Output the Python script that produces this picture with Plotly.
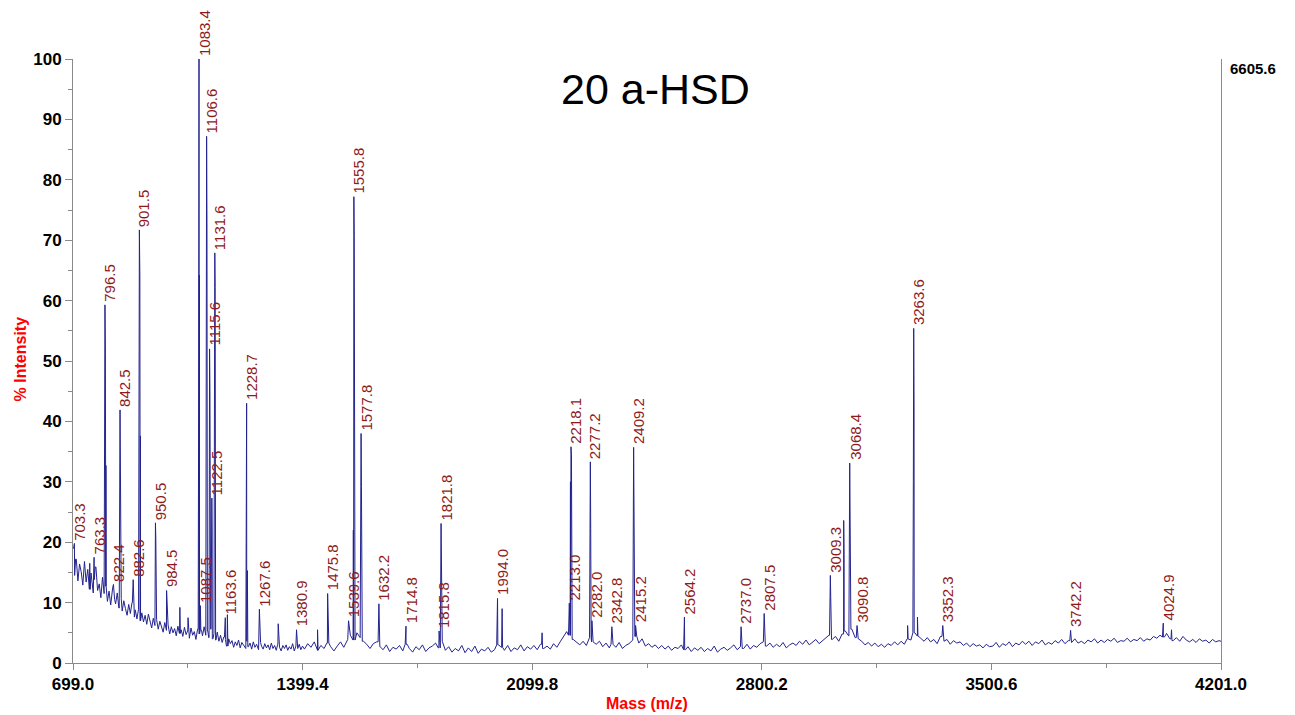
import plotly.graph_objects as go

# ---------------- data ----------------
# baseline (noise) samples
base_mz_1 = list(range(699, 1400, 5))
base_int_1 = [19.0, 14.5, 17.2, 13.6, 16.4, 15.1, 12.9, 16.8, 13.4, 15.5,
              12.2, 14.9, 11.6, 13.8, 15.9, 12.0, 13.1, 10.8, 14.2, 11.5,
              12.7, 10.2, 11.9, 9.6, 12.4, 10.5, 9.8, 11.6, 9.1, 10.7,
              8.6, 10.3, 9.0, 7.9, 9.7, 8.2, 10.0, 7.6, 8.8, 7.3,
              8.9, 7.0, 8.3, 6.8, 7.9, 6.4, 8.1, 6.9, 5.8, 7.4,
              6.2, 7.2, 5.6, 6.9, 5.9, 5.1, 6.7, 5.4, 6.3, 4.8,
              6.0, 5.0, 5.7, 4.5, 6.1, 4.9, 5.5, 4.4, 5.9, 4.7,
              5.3, 4.1, 5.8, 4.6, 5.2, 3.9, 5.6, 4.8, 5.4, 4.5,
              6.0, 4.6, 5.3, 4.2, 5.6, 4.0, 4.9, 3.8, 5.1, 3.6,
              4.6, 3.4, 4.3, 3.9, 2.8, 4.0, 3.2, 3.7, 2.6, 3.5,
              2.9, 3.8, 2.5, 3.4, 3.0, 2.4, 3.6, 2.7, 3.3, 2.3,
              3.5, 2.6, 3.1, 2.2, 3.4, 2.8, 2.3, 3.2, 2.5, 3.0,
              2.2, 3.3, 2.4, 2.9, 2.1, 3.1, 2.6, 2.0, 2.9, 2.4,
              3.0, 2.1, 2.7, 2.3, 3.2, 2.0, 2.8, 2.4, 3.1, 2.2,
              2.8]
base_mz_2 = list(range(1405, 4200, 10)) + [4201]
base_int_2 = [2.3, 3.2, 2.6, 3.5, 2.1, 2.9, 2.4, 3.3, 2.7, 2.0,
              2.8, 3.5, 2.6, 3.9, 4.6, 3.8, 5.0, 4.2, 3.6, 3.1,
              2.4, 3.2, 3.5, 2.7, 2.2, 3.0, 1.9, 2.6, 2.3, 2.9,
              2.0, 3.1, 2.4, 1.8, 2.7, 2.2, 3.0, 1.9, 2.5, 2.8,
              3.3, 2.5, 3.6, 2.1, 2.7, 1.8, 2.4, 2.0, 2.9, 1.7,
              2.5, 1.9, 2.8, 1.6, 2.3, 2.0, 2.6, 1.8, 2.2, 3.0,
              2.6, 2.1, 2.9, 1.9, 2.5, 2.2, 3.0, 2.0, 2.7, 2.3,
              2.9, 2.2, 3.1, 2.4, 2.8, 2.3, 3.2, 2.6, 3.5, 4.3,
              5.2, 4.6, 3.9, 3.4, 3.0, 3.6, 2.9, 4.2, 3.5, 3.1,
              3.6, 2.7, 3.3, 2.5, 3.1, 2.6, 3.4, 2.4, 2.9, 3.2,
              3.8, 4.4, 3.3, 4.0, 2.8, 3.2, 2.6, 3.0, 2.4, 2.9,
              2.3, 2.8, 2.1, 2.6, 2.4, 3.0, 2.2, 2.7, 1.9, 2.5,
              2.1, 2.6, 1.9, 2.4, 2.0, 2.8, 1.8, 2.3, 2.6, 2.1,
              2.5, 3.0, 2.2, 2.7, 2.4, 3.1, 2.3, 2.9, 2.6, 3.2,
              3.5, 2.8, 3.3, 2.6, 3.1, 2.7, 3.4, 2.5, 3.0, 3.3,
              2.9, 3.6, 3.1, 3.8, 3.0, 3.5, 3.9, 3.2, 3.7, 4.1,
              4.6, 3.9, 4.4, 3.6, 4.8, 5.3, 4.5, 5.6, 4.2, 4.0,
              3.6, 3.0, 3.4, 2.8, 3.3, 2.7, 3.1, 2.6, 3.2, 2.9,
              3.5, 3.0, 3.6, 3.1, 4.0, 3.8, 5.0, 4.5, 4.1, 3.6,
              4.2, 3.5, 3.9, 3.2, 4.4, 3.6, 3.9, 3.1, 3.7, 3.3,
              3.5, 2.9, 3.3, 2.7, 3.2, 2.8, 3.0, 2.5, 3.1, 2.7,
              2.8, 3.4, 2.6, 3.2, 2.9, 3.5, 2.7, 3.3, 3.0, 3.6,
              3.1, 3.6, 2.9, 3.5, 3.2, 3.8, 3.0, 3.4, 3.1, 3.7,
              3.3, 3.9, 3.2, 3.7, 3.4, 4.0, 3.3, 3.6, 3.2, 3.8,
              3.5, 4.0, 3.3, 3.8, 3.4, 3.9, 3.6, 4.1, 3.4, 3.7,
              3.6, 4.1, 3.5, 3.9, 3.7, 4.2, 3.6, 4.0, 3.8, 4.4,
              4.1, 4.6, 4.3, 4.9, 4.0, 3.7, 4.2, 3.6, 4.4, 3.8,
              3.5, 3.9, 3.4, 4.0, 3.6, 3.8, 3.3, 3.9, 3.5, 3.7,
              3.6]

# labelled peaks
peak_mz = [703.3, 763.3, 796.5, 822.4, 842.5, 882.6, 901.5, 950.5, 984.5,
           1083.4, 1087.5, 1106.6, 1115.6, 1122.5, 1131.6, 1163.6, 1228.7,
           1267.6, 1380.9, 1475.8, 1539.6, 1555.8, 1577.8, 1632.2, 1714.8,
           1815.8, 1821.8, 1994.0, 2213.0, 2218.1, 2277.2, 2282.0, 2342.8,
           2409.2, 2415.2, 2564.2, 2737.0, 2807.5, 3009.3, 3068.4, 3090.8,
           3263.6, 3352.3, 3742.2, 4024.9]
peak_int = [19.8, 17.5, 59.3, 13.0, 41.9, 13.8, 71.7, 23.2, 12.0,
            100.0, 9.5, 87.2, 52.0, 27.3, 67.9, 7.5, 43.0,
            8.9, 5.5, 11.5, 7.0, 77.2, 38.0, 9.8, 6.1,
            5.3, 23.1, 10.7, 9.9, 35.8, 33.3, 7.0, 6.0,
            35.7, 6.2, 7.6, 6.0, 8.2, 14.5, 33.1, 6.2,
            55.4, 6.2, 5.4, 6.6]

# isotope / shoulder lines next to labelled peaks (unlabelled)
iso_mz = [797.8, 799.5, 843.6, 903.0, 904.5, 951.6, 1082.5, 1084.5, 1105.5,
          1107.7, 1116.7, 1123.5, 1130.5, 1132.7, 1229.8, 1231.0, 1554.2,
          1556.9, 1578.9, 1822.9, 2216.5, 2219.5, 2278.3, 2410.3, 3010.4,
          3069.5, 3262.5, 3264.7]
iso_int = [52.3, 32.7, 30.0, 63.9, 37.6, 20.7, 50.0, 64.2, 51.0,
           72.7, 45.0, 22.0, 45.0, 62.2, 38.0, 15.3, 22.0,
           70.6, 29.2, 17.7, 30.0, 34.5, 22.3, 26.5, 11.0,
           25.0, 30.0, 41.9]

# small unlabelled peaks
minor_mz = [750.0, 1025.0, 1050.0, 1170.0, 1325.0, 1445.0, 2008.0, 2130.0,
            3050.0, 3051.2, 3245.0, 3275.0, 4050.0]
minor_int = [16.5, 9.2, 7.5, 8.0, 6.5, 5.5, 9.0, 5.0,
             23.6, 18.0, 6.2, 7.6, 5.5]

title_text = "20 a-HSD"
max_counts = "6605.6"
x_tickvals = [699.0, 1399.4, 2099.8, 2800.2, 3500.6, 4201.0]
y_tickvals = [0, 10, 20, 30, 40, 50, 60, 70, 80, 90, 100]

# ---------------- build spectrum ----------------
base_mz = base_mz_1 + base_mz_2
base_int = base_int_1 + base_int_2


def nearest_base(m):
    i = min(range(len(base_mz)), key=lambda k: abs(base_mz[k] - m))
    return base_int[i]


pts = list(zip(base_mz, base_int))
pts += list(zip(peak_mz, peak_int))
pts += list(zip(iso_mz, iso_int))
pts += list(zip(minor_mz, minor_int))
for m in peak_mz:
    pts.append((m - 2.5, nearest_base(m - 2.5)))
    pts.append((m + 3.6, nearest_base(m + 3.6)))
for m in minor_mz:
    pts.append((m - 1.5, nearest_base(m - 1.5)))
    pts.append((m + 1.5, nearest_base(m + 1.5)))
pts.sort(key=lambda p: p[0])

xs = [p[0] for p in pts]
ys = [p[1] for p in pts]

fig = go.Figure()
fig.add_trace(go.Scatter(x=xs, y=ys, mode="lines",
                         line=dict(color="#23238f", width=1),
                         hoverinfo="skip", showlegend=False))

FONT = "Liberation Sans, Arial, sans-serif"
for m, v in zip(peak_mz, peak_int):
    fig.add_annotation(x=m, y=v, text=f"{m:.1f}", textangle=-90,
                       showarrow=False, xanchor="center", yanchor="bottom",
                       xshift=5, yshift=1,
                       font=dict(family=FONT, size=15, color="#8e1b1b"))

fig.add_annotation(xref="paper", yref="paper", x=0.5074, y=0.951,
                   text=title_text, showarrow=False, xanchor="center",
                   yanchor="middle", font=dict(family=FONT, size=43, color="black"))
fig.add_annotation(xref="paper", yref="paper", x=1.006, y=0.984,
                   text=f"<b>{max_counts}</b>", showarrow=False, xanchor="left",
                   yanchor="middle", font=dict(family=FONT, size=15, color="black"))
fig.add_annotation(xref="paper", yref="paper", x=-0.046, y=0.503,
                   text="<b>% Intensity</b>", textangle=-90, showarrow=False,
                   xanchor="center", yanchor="middle",
                   font=dict(family=FONT, size=16, color="red"))
fig.add_annotation(xref="paper", yref="paper", x=0.4997, y=-0.067,
                   text="<b>Mass (m/z)</b>", showarrow=False,
                   xanchor="center", yanchor="middle",
                   font=dict(family=FONT, size=16, color="red"))

fig.update_xaxes(range=[699.0, 4201.0], showgrid=False, zeroline=False,
                 showline=True, linecolor="#8a8a8a", linewidth=1,
                 ticks="outside", ticklen=6, tickcolor="#8a8a8a",
                 tickvals=x_tickvals, ticktext=[f"<b>{v:.1f}</b>" for v in x_tickvals],
                 minor=dict(tickvals=[1049.2, 1749.6, 2450.0, 3150.4, 3850.8],
                            ticks="outside", ticklen=4, tickcolor="#8a8a8a"),
                 tickfont=dict(family=FONT, size=17, color="black"))
fig.update_yaxes(range=[0, 100], showgrid=False, zeroline=False,
                 showline=True, linecolor="#8a8a8a", linewidth=1, mirror=True,
                 ticks="outside", ticklen=7, tickcolor="#8a8a8a",
                 tickvals=y_tickvals, ticktext=[f"<b>{v}</b>" for v in y_tickvals],
                 minor=dict(dtick=5, tick0=0, ticks="outside", ticklen=4,
                            tickcolor="#8a8a8a"),
                 tickfont=dict(family=FONT, size=17, color="black"))

fig.update_layout(width=1295, height=715, plot_bgcolor="white",
                  paper_bgcolor="white",
                  margin=dict(l=73, r=74, t=59, b=52),
                  showlegend=False)

fig.write_html("out.html")
